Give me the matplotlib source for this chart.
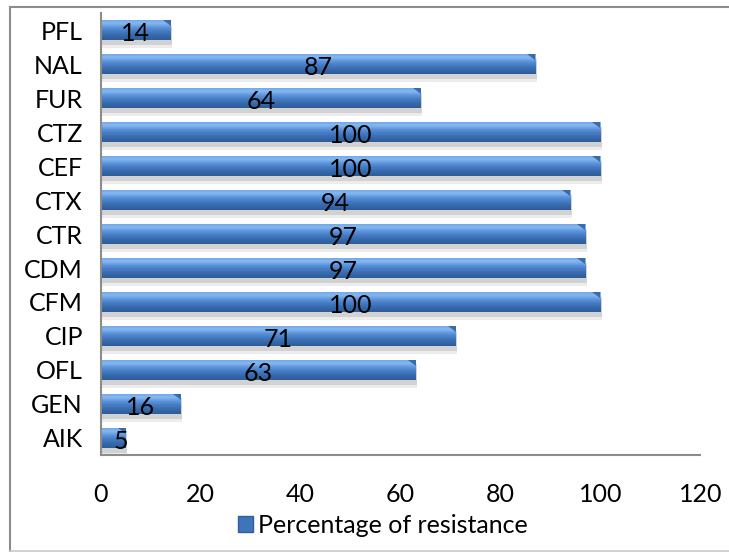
import numpy as np
import matplotlib.pyplot as plt
from matplotlib.patches import Rectangle, Polygon
from matplotlib.lines import Line2D
import matplotlib.colors as mcolors

plt.rcParams['font.family'] = ['Lato', 'DejaVu Sans']

# drug codes, bottom to top
drugs = ['AIK', 'GEN', 'OFL', 'CIP', 'CFM', 'CDM', 'CTR', 'CTX', 'CEF', 'CTZ', 'FUR', 'NAL', 'PFL']
resistance = [5, 16, 63, 71, 100, 97, 97, 94, 100, 100, 64, 87, 14]
series_name = 'Percentage of resistance'
xticks = [0, 20, 40, 60, 80, 100, 120]

fig = plt.figure(figsize=(7.29, 5.52), dpi=100)
ax = fig.add_axes([0.1385, 0.176, 0.822, 0.8])

# vertical gradient for the bar face: light at top, dark at bottom
cmap = mcolors.LinearSegmentedColormap.from_list(
    'bar', ['#2d5c99', '#3768a9', '#4479c2', '#5a92da', '#86b8f0', '#6ea5e8'])
grad = np.linspace(0, 1, 64).reshape(-1, 1)

h = 0.6
for i, v in enumerate(resistance):
    y0 = i - h / 2
    # soft shadow under the bar
    ax.add_patch(Rectangle((0.3, y0 - 0.14), v, h, color='#bdbdbd', alpha=0.55, lw=0, zorder=1))
    ax.add_patch(Rectangle((0.3, y0 - 0.22), v, h, color='#e0e0e0', alpha=0.6, lw=0, zorder=0.9))
    bar = Rectangle((0, y0), v, h, facecolor='none', lw=0, zorder=2)
    ax.add_patch(bar)
    im = ax.imshow(grad, extent=(0, v, y0, y0 + h), origin='lower', aspect='auto',
                   cmap=cmap, zorder=2, interpolation='bilinear')
    im.set_clip_path(bar)
    # bevelled right end
    ax.add_patch(Polygon([(v - 1.6, y0 + h), (v, y0 + h), (v, y0 + h * 0.7)],
                         closed=True, color='#2f5f9e', alpha=0.85, lw=0, zorder=3))
    ax.text(v / 2 + (1.5 if v < 10 else 0), i - 0.1, str(v), ha='center', va='center',
            fontsize=18, color='black', zorder=4)

ax.set_xlim(0, 120)
ax.set_ylim(-0.5, len(drugs) - 0.5)
ax.set_yticks(range(len(drugs)))
ax.set_yticklabels(drugs)
ax.set_xticks(xticks)
ax.tick_params(axis='both', length=0, labelsize=18)
ax.tick_params(axis='y', pad=13)
ax.tick_params(axis='x', pad=20)

for s in ['top', 'right']:
    ax.spines[s].set_visible(False)
for s in ['left', 'bottom']:
    ax.spines[s].set_color('#8c8c8c')
    ax.spines[s].set_linewidth(1.5)

handle = Rectangle((0, 0), 1, 1, facecolor='#3e74ba', edgecolor='#2f5f9e')
fig.legend([handle], [series_name], loc='center', bbox_to_anchor=(0.525, 0.048),
           frameon=False, fontsize=18, handlelength=0.6, handleheight=0.6, handletextpad=0.2)

# chart frame
fig.add_artist(Line2D([10 / 729, 10 / 729], [1 - 7 / 552, 1 - 551 / 552], color='#8c8c8c', lw=1.5))
fig.add_artist(Line2D([10 / 729, 1], [1 - 7 / 552, 1 - 7 / 552], color='#8c8c8c', lw=1.5))
fig.add_artist(Line2D([10 / 729, 1], [1 - 551 / 552, 1 - 551 / 552], color='#c8c8c8', lw=1.2))

fig.savefig('out.png', dpi=100)
